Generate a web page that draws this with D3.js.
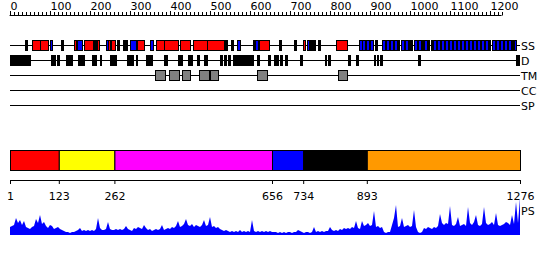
<!DOCTYPE html>
<html><head><meta charset="utf-8">
<script src="https://cdn.jsdelivr.net/npm/d3@7"></script>
<style>body{margin:0;background:#fff}svg{display:block}text{font-family:"DejaVu Sans",sans-serif;font-size:11px;fill:#000}</style>
</head><body><svg id="c" width="550" height="260"></svg>
<script>
const seqLength = 1276;
const rulerTicks = [0,100,200,300,400,500,600,700,800,900,1000,1100,1200];
const trackNames = ["SS","D","TM","CC","SP"];
// secondary structure: [start, end, type] H=helix(red) E=strand(blue) C=black
const ssSegments = [
 [38,42,"C"],[55,75,"H"],[75,95,"H"],[101,107,"E"],[129,133,"C"],[162,168,"H"],[168,180,"E"],
 [186,209,"H"],[212,218,"C"],[218,222,"H"],[242,247,"E"],[247,251,"H"],[251,253,"C"],[253,262,"H"],
 [268,272,"C"],[284,294,"C"],[302,318,"E"],[318,335,"H"],[351,358,"E"],[366,385,"H"],[385,419,"H"],
 [426,451,"H"],[459,494,"H"],[494,536,"H"],[539,544,"C"],[553,558,"C"],[569,576,"E"],
 [609,613,"C"],[613,620,"E"],[620,623,"C"],[623,648,"H"],[673,678,"C"],[711,716,"C"],[734,739,"H"],
 [744,749,"E"],[749,764,"C"],[770,774,"C"],[816,844,"H"],
 [873,880,"E"],[882,889,"E"],[891,898,"E"],[900,907,"E"],[913,918,"C"],
 [932,940,"E"],[941,948,"E"],[952,960,"E"],[961,969,"E"],[972,975,"C"],[978,986,"E"],[988,995,"E"],
 [998,1001,"C"],[1004,1007,"C"],[1010,1018,"E"],[1020,1027,"E"],[1030,1033,"C"],[1036,1044,"E"],
 [1047,1050,"C"],[1053,1056,"C"],[1059,1067,"E"],[1069,1076,"E"],[1079,1087,"E"],[1089,1096,"E"],
 [1099,1107,"E"],[1109,1116,"E"],[1119,1127,"E"],[1129,1136,"E"],[1139,1147,"E"],[1149,1156,"E"],
 [1159,1167,"E"],[1169,1176,"E"],[1179,1187,"E"],[1189,1196,"E"],[1199,1202,"C"],[1205,1213,"E"],
 [1215,1222,"E"],[1225,1233,"E"],[1235,1242,"E"],[1245,1252,"E"],[1255,1258,"C"],[1260,1266,"E"]
];
const disorder = [
 [1,52],[104,115],[118,122],[140,154],[172,186],[205,214],[225,228],[250,264],[293,307],[317,320],
 [340,344],[347,358],[385,393],[420,429],[447,458],[468,472],[487,494],[527,531],[537,542],[546,550],
 [558,607],[618,622],[646,650],[661,672],[677,682],[689,694],[726,731],[789,792],[797,801],[847,851],
 [867,871],[911,914],[919,922],[927,931],[1021,1026],[1267,1274]
];
const transmembrane = [[363,387],[398,422],[432,453],[473,497],[502,523],[618,642],[821,843]];
const coiledCoil = [];
const signalPeptide = [];
const domainBounds = [1,123,262,656,734,893,1276];
const domainColors = ["#ff0000","#ffff00","#ff00ff","#0000ff","#000000","#ff9900"];
// PS profile, one value per 5 residues starting at residue 1
const psValues = [
8,9,10,17,12,15,10,14,8,7,6,8,9,16,12,20,11,13,9,7,10,9,6,7,8,6,5,4,3,3,2,3,3,4,5,7,4,5,4,5,
4,5,4,6,17,7,5,5,6,13,6,5,5,6,5,6,5,6,9,6,5,4,7,6,8,7,6,10,7,5,6,4,5,6,5,6,10,5,6,7,
6,8,7,9,14,8,9,11,16,10,9,11,8,10,9,8,10,15,9,10,18,8,9,7,8,6,5,4,5,4,3,4,3,4,3,5,3,4,3,4,
3,15,4,3,4,3,4,3,4,3,4,3,3,3,2,3,2,3,2,3,3,2,3,3,5,4,3,2,3,3,2,3,8,3,4,3,4,3,4,4,
8,5,4,5,4,6,5,7,6,7,6,8,7,14,7,6,14,9,10,12,9,10,24,8,9,7,8,3,2,3,3,10,17,30,8,9,17,8,9,10,
8,9,25,8,3,2,3,7,6,8,7,6,8,7,9,21,12,10,12,11,29,10,9,11,18,9,10,11,9,28,12,10,13,20,10,9,11,28,12,10,
11,13,10,22,10,9,10,11,13,12,10,20,11,33,12,37
];

const svg = d3.select("#c");
const x = d3.scaleLinear().domain([1, seqLength]).range([10, 520]);
const ssColor = {H:"#ff0000", E:"#0000ff", C:"#000000"};

// top ruler
const ruler = svg.append("g");
ruler.append("line").attr("x1",x(0)).attr("x2",x(1230)).attr("y1",15.5).attr("y2",15.5).attr("stroke","#000");
ruler.selectAll("line.t").data(d3.range(0,1231,10)).join("line").attr("class","t")
 .attr("x1",d=>Math.round(x(d))+0.5).attr("x2",d=>Math.round(x(d))+0.5)
 .attr("y1",15.5).attr("y2",d=>d%100===0?11:12).attr("stroke","#000");
ruler.selectAll("text").data(rulerTicks).join("text").attr("x",d=>x(d)+1).attr("y",10).text(d=>d);

// tracks
const trackY = {SS:45, D:60, TM:75, CC:90, SP:105};
trackNames.forEach(n=>{
  svg.append("line").attr("x1",x(1)).attr("x2",x(seqLength)).attr("y1",trackY[n]+0.5).attr("y2",trackY[n]+0.5).attr("stroke","#000");
  svg.append("text").attr("x",x(seqLength)+1).attr("y",trackY[n]+4.5).text(n);
});
function boxes(data, y, fill){
  svg.append("g").selectAll("rect").data(data).join("rect")
   .attr("x",d=>Math.round(x(d[0]))+0.5).attr("width",d=>Math.max(1,Math.round(x(d[1])-x(d[0]))))
   .attr("y",y-5+0.5).attr("height",10).attr("fill",fill).attr("stroke","#000");
}
boxes(ssSegments, trackY.SS, d=>ssColor[d[2]]);
boxes(disorder, trackY.D, "#000");
boxes(transmembrane, trackY.TM, "#808080");
boxes(coiledCoil, trackY.CC, "#000");
boxes(signalPeptide, trackY.SP, "#000");

// domain bar
const doms = domainBounds.slice(0,-1).map((s,i)=>({s, e:domainBounds[i+1], c:domainColors[i]}));
svg.append("g").selectAll("rect").data(doms).join("rect")
 .attr("x",d=>x(d.s)+0.5).attr("width",d=>x(d.e)-x(d.s)).attr("y",150.5).attr("height",20)
 .attr("fill",d=>d.c).attr("stroke","#000");
const ax = d3.axisBottom(x).tickValues(domainBounds).tickFormat(d3.format("d")).tickSize(4).tickSizeOuter(0);
const axg = svg.append("g").attr("transform","translate(0,180)").call(ax);
axg.select(".domain").attr("stroke","#000");
axg.selectAll("text").attr("font-size",11).attr("font-family","DejaVu Sans").attr("dy","1.17em");

// PS
const psRes = psValues.map((v,i)=>1+i*5);
const y = d3.scaleLinear().domain([0,40]).range([235,195]);
const area = d3.area().x((d,i)=>x(psRes[i])).y0(235).y1(d=>y(d));
svg.append("path").datum(psValues).attr("d",area).attr("fill","#0000ff");
svg.append("text").attr("x",x(seqLength)+1).attr("y",215).text("PS");
</script></body></html>
